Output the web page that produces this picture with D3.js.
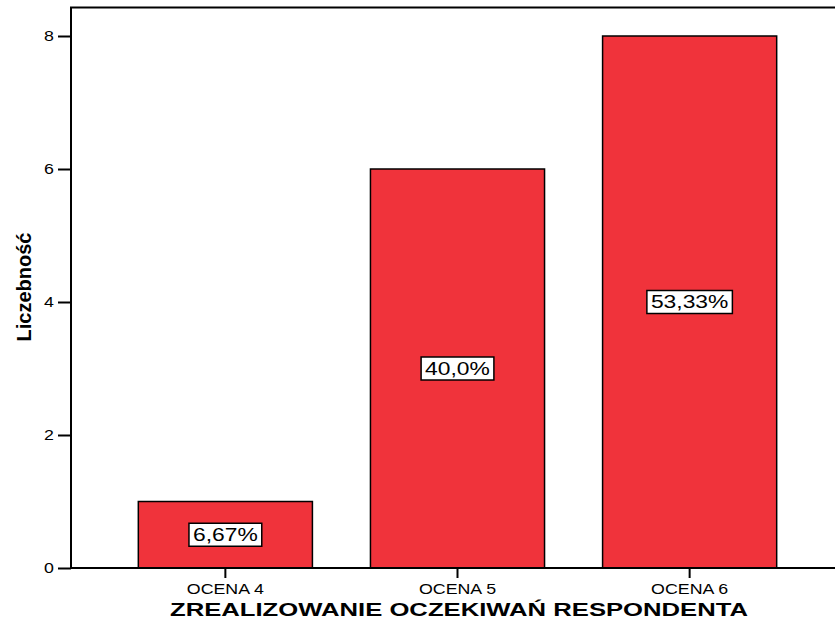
<!DOCTYPE html>
<html>
<head>
<meta charset="utf-8">
<script src="https://cdn.jsdelivr.net/npm/d3@7"></script>
<style>
  body { margin: 0; background: #fff; }
  svg { display: block; font-family: "Liberation Sans", Arial, sans-serif; }
</style>
</head>
<body>
<svg id="chart" width="835" height="623"></svg>
<script>
var categories = ['OCENA 4', 'OCENA 5', 'OCENA 6'];
var counts = [1, 6, 8];
var percentLabels = ['6,67%', '40,0%', '53,33%'];
var yTicks = [0, 2, 4, 6, 8];

var svg = d3.select('#chart');

// the original text is horizontally stretched
var stretch = 1.27;

// scales
var x = d3.scaleBand()
  .domain(categories)
  .range([71, 844])
  .paddingInner(0.25)
  .paddingOuter(0.29);

var y = d3.scaleLinear()
  .domain([0, 8])
  .range([568, 36]);

var barColor = '#f0333b';

// frame (top line runs off the right edge)
svg.append('path')
  .attr('d', 'M71,' + y(0) + 'V' + y(8.43) + 'H840')
  .attr('fill', 'none')
  .attr('stroke', '#000')
  .attr('stroke-width', 2);

// bars
svg.append('g')
  .selectAll('rect')
  .data(counts)
  .enter()
  .append('rect')
  .attr('x', (d, i) => x(categories[i]))
  .attr('y', d => y(d))
  .attr('width', x.bandwidth())
  .attr('height', d => y(0) - y(d))
  .attr('fill', barColor)
  .attr('stroke', '#000')
  .attr('stroke-width', 1.5);

// percent labels in white boxes
var lab = svg.append('g')
  .selectAll('g')
  .data(counts)
  .enter()
  .append('g')
  .attr('transform', (d, i) => 'translate(' + (x(categories[i]) + x.bandwidth() / 2) + ',' + y(d / 2) + ')');

lab.append('text')
  .attr('text-anchor', 'middle')
  .attr('dy', '0.36em')
  .attr('transform', 'scale(' + stretch + ',1)')
  .style('font-size', '18px')
  .attr('fill', '#000')
  .text((d, i) => percentLabels[i]);

lab.each(function() {
  var g = d3.select(this);
  var w = g.select('text').node().getBBox().width * stretch;
  g.insert('rect', 'text')
    .attr('x', -w / 2 - 4)
    .attr('y', -11.5)
    .attr('width', w + 8)
    .attr('height', 23)
    .attr('fill', '#fff')
    .attr('stroke', '#000')
    .attr('stroke-width', 1.5);
});

// y axis
var yAxis = svg.append('g')
  .attr('transform', 'translate(71,0)')
  .call(d3.axisLeft(y).tickValues(yTicks).tickSize(13).tickPadding(4));
yAxis.select('.domain').remove();
yAxis.selectAll('line').attr('stroke-width', 2);
yAxis.selectAll('text')
  .attr('x', -17 / stretch)
  .attr('transform', 'scale(' + stretch + ',1)')
  .style('font-size', '14px')
  .style('font-family', '"Liberation Sans", Arial, sans-serif')
  .attr('fill', '#000');

// x axis
var xAxis = svg.append('g')
  .attr('transform', 'translate(0,' + y(0) + ')')
  .call(d3.axisBottom(x).tickSize(10).tickPadding(6));
xAxis.select('.domain')
  .attr('d', 'M71,0H840')
  .attr('stroke-width', 2);
xAxis.selectAll('line').attr('stroke-width', 2);
xAxis.selectAll('text')
  .attr('transform', 'scale(' + stretch + ',1)')
  .style('font-size', '14px')
  .style('font-family', '"Liberation Sans", Arial, sans-serif')
  .attr('fill', '#000');

// titles
svg.append('text')
  .attr('x', 459)
  .attr('y', 616)
  .attr('text-anchor', 'middle')
  .attr('textLength', 578)
  .attr('lengthAdjust', 'spacingAndGlyphs')
  .style('font-size', '18px')
  .style('font-weight', 'bold')
  .text('ZREALIZOWANIE OCZEKIWAŃ RESPONDENTA');

svg.append('text')
  .attr('transform', 'translate(31,287) rotate(-90)')
  .attr('text-anchor', 'middle')
  .style('font-size', '20px')
  .style('font-weight', 'bold')
  .style('font-family', '"Liberation Sans Narrow", "Arial Narrow", sans-serif')
  .text('Liczebność');
</script>
</body>
</html>
